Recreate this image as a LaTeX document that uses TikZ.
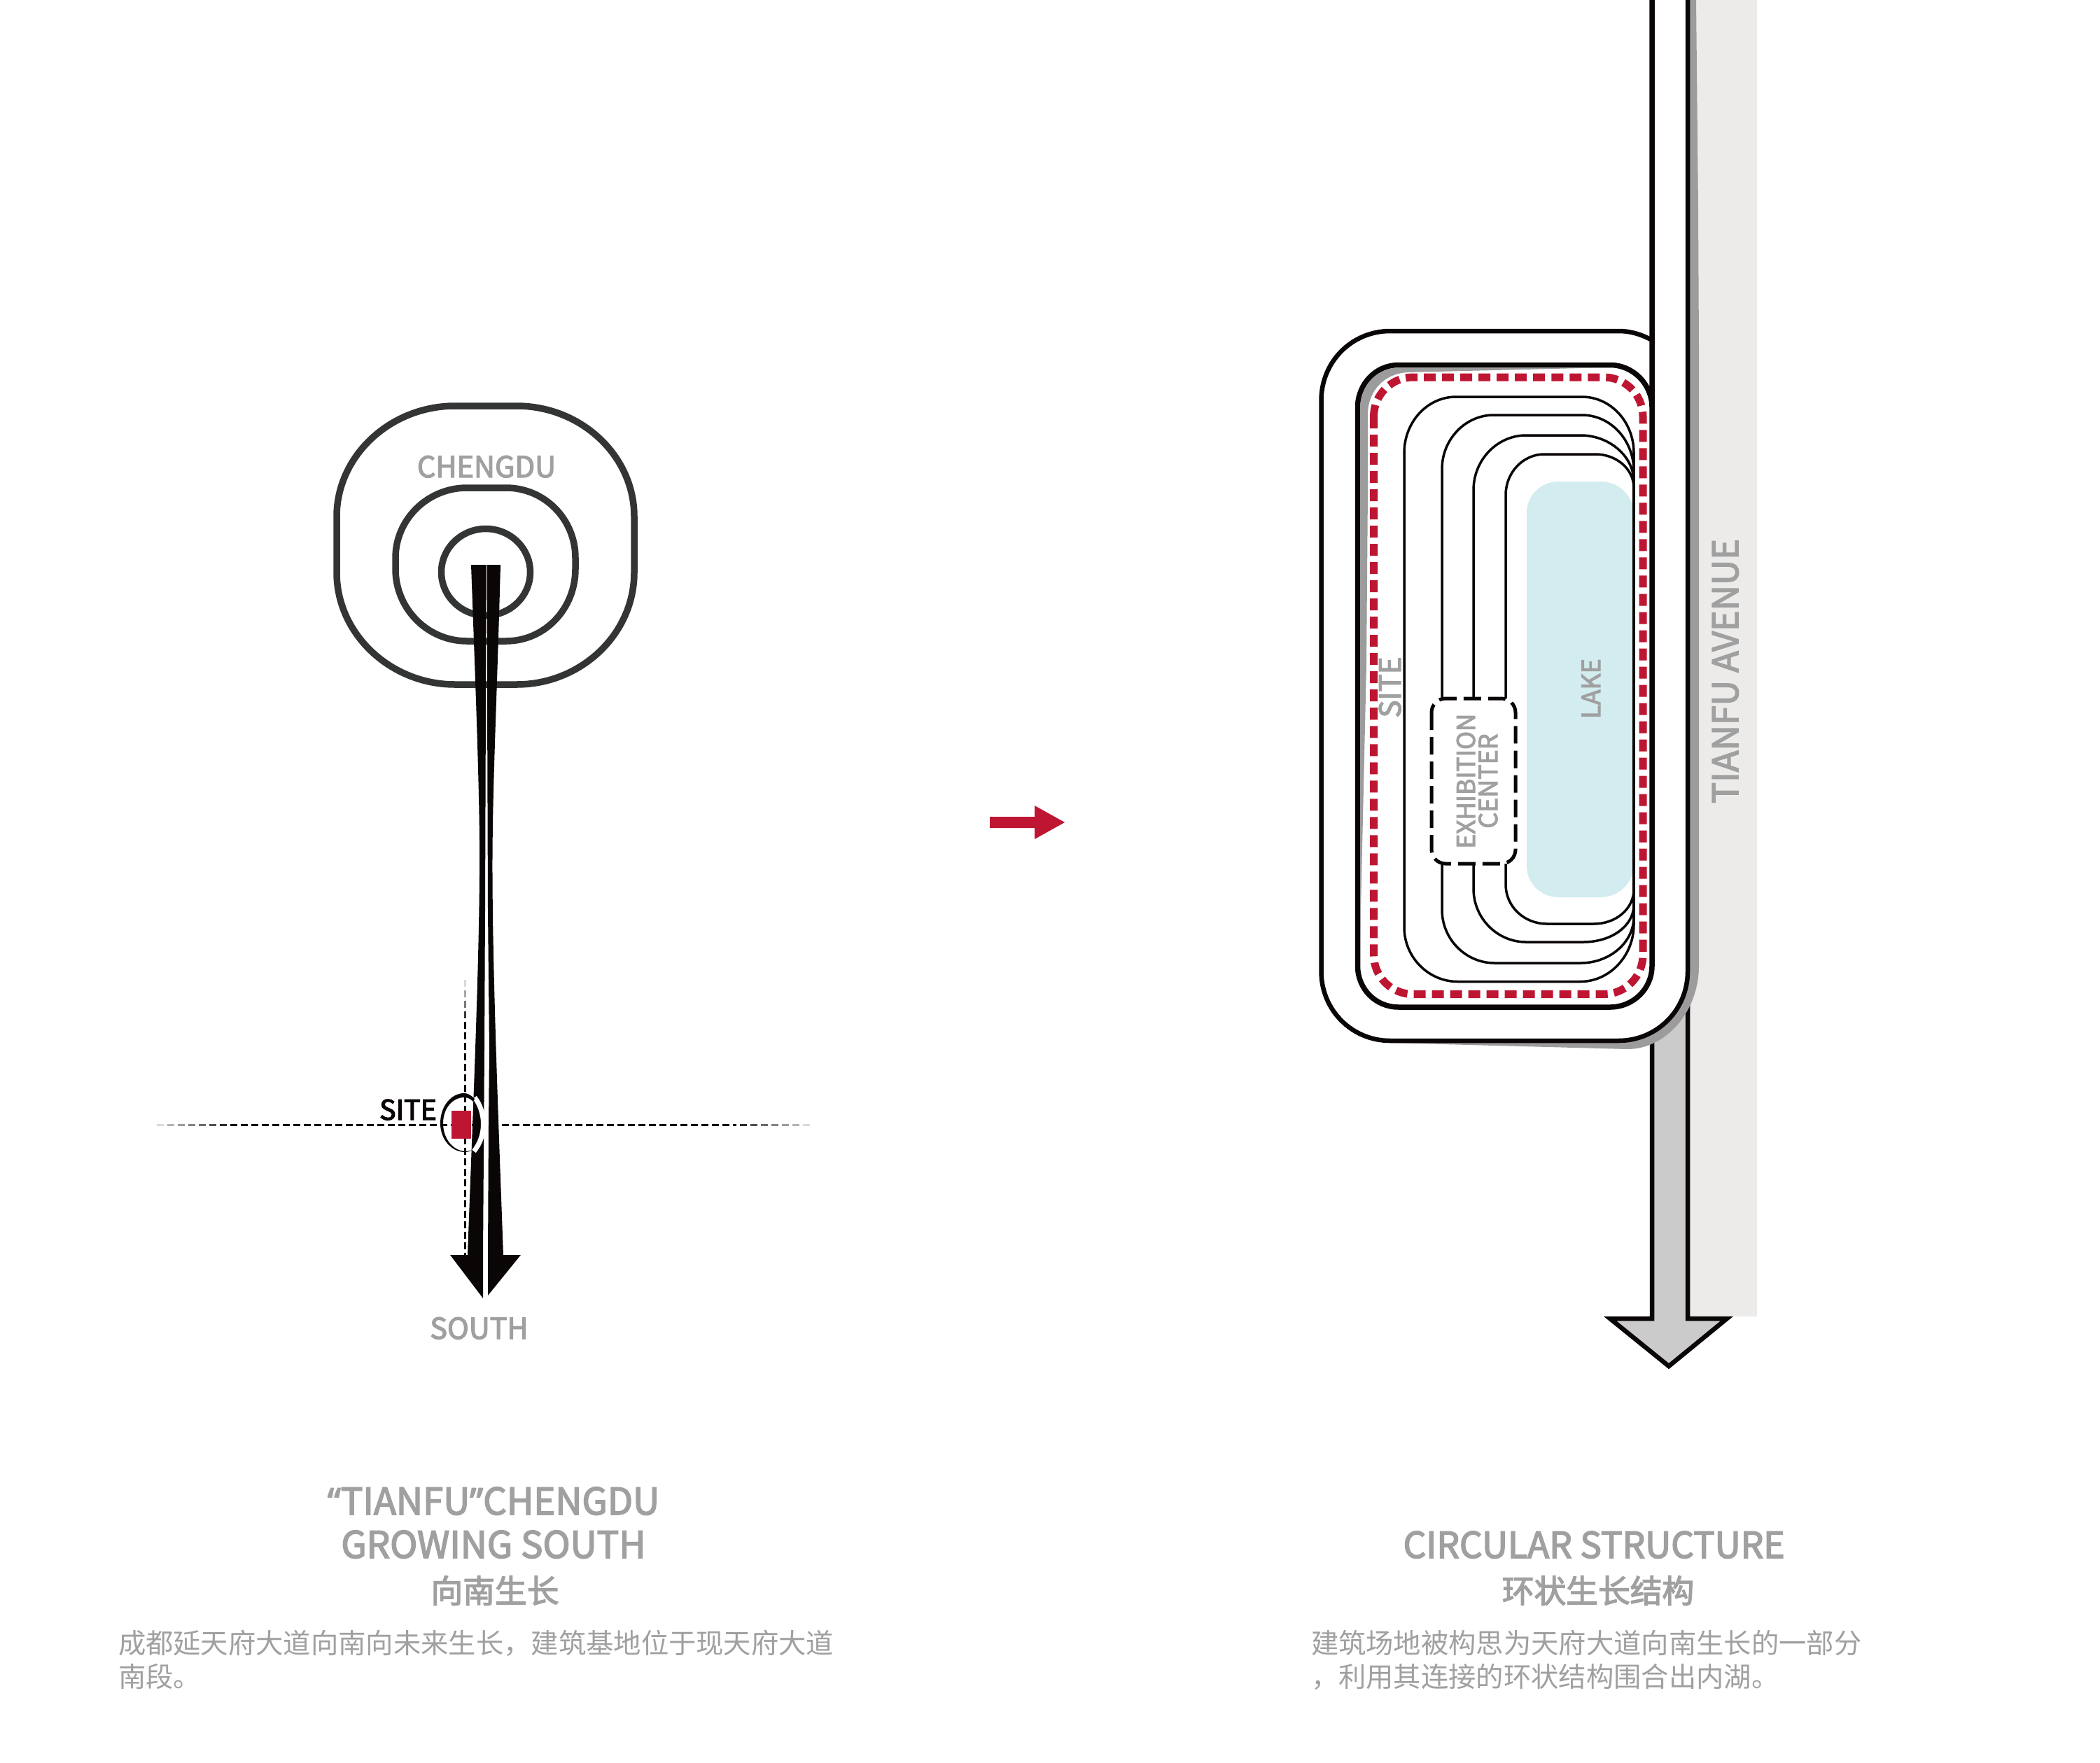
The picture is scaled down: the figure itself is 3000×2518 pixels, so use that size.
\documentclass[tikz,border=0pt]{standalone}
\usepackage{fontspec}
\setmainfont{Noto Sans CJK SC}
\newfontfamily\medf[FakeBold=3]{Noto Sans CJK SC}
\newfontfamily\latinq[FakeBold=3]{Noto Sans}
\def\pxu{0.2845pt}
\definecolor{ringc}{HTML}{333535}
\definecolor{blk}{HTML}{0A0605}
\definecolor{txtg}{HTML}{A0A0A0}
\definecolor{redc}{HTML}{BE1632}
\definecolor{lightg}{HTML}{ECEBEA}
\definecolor{shad}{HTML}{9C9C9C}
\definecolor{roadg}{HTML}{CBCBCB}
\definecolor{lakec}{HTML}{D2ECEF}
\tikzset{
  ring/.style={draw=ringc,line width=9.5*\pxu},
  thickb/.style={draw=blk,line width=6.5*\pxu},
  thinb/.style={draw=blk,line width=3.5*\pxu},
  dashl/.style={draw=blk,line width=3*\pxu,dash pattern=on 10*\pxu off 5*\pxu},
  lab/.style={inner sep=0,outer sep=0,text=txtg,anchor=base,font=\fontsize{11.8pt}{13pt}\medf},
  ttl/.style={inner sep=0,outer sep=0,text=txtg,anchor=base,font=\fontsize{15pt}{16pt}\medf},
  ttlc/.style={inner sep=0,outer sep=0,text=txtg,anchor=base,font=\fontsize{13pt}{15pt}\medf},
  bodyt/.style={inner sep=0,outer sep=0,text=txtg,anchor=base west,font=\fontsize{11.18pt}{14pt}\selectfont},
}
\begin{document}
\begin{tikzpicture}[x=0.01cm,y=-0.01cm]
\useasboundingbox[fill=white] (0,0) rectangle (3000,2518);
% ---------- left diagram
\draw[ring] (650,580)--(738,580) .. controls +(92,0) and +(0,-87) .. (906,738) -- (906,818) .. controls +(0,88) and +(92,0) .. (738,978) -- (650,978) .. controls +(-92,0) and +(0,88) .. (481,818) -- (481,738) .. controls +(0,-87) and +(-92,0) .. (650,580) -- cycle;
\draw[ring] (667,697)--(723,697) .. controls +(55,0) and +(0,-55) .. (822,797) -- (822,813) .. controls +(0,57) and +(55,0) .. (723,916) -- (667,916) .. controls +(-56,0) and +(0,57) .. (565,813) -- (565,797) .. controls +(0,-55) and +(-56,0) .. (667,697) -- cycle;
\draw[ring] (694,817.5) ellipse [x radius=63.5,y radius=62];
% dashed cross
\foreach \i/\c in {0/15,1/30,2/40,3/50,4/60,5/70,6/85}{
  \draw[blk!\c!white,line width=3*\pxu] ({224+15*\i},1607) -- ({234+15*\i},1607);
  \draw[blk!\c!white,line width=3*\pxu] ({1157-15*\i},1607) -- ({1147-15*\i},1607);
}
\draw[dashl] (329,1607) -- (680,1607);
\draw[dashl] (717,1607) -- (1052,1607);
\foreach \i/\c in {0/15,1/35,2/55,3/80}{
  \draw[blk!\c!white,line width=3*\pxu] (664,{1400+15*\i}) -- (664,{1410+15*\i});
}
\draw[dashl] (664,1460) -- (664,1793);
% black arrow
\fill[blk] (673,807) -- (695,807) -- (694,1000) -- (693,1300) -- (692,1500) -- (690,1793) -- (690,1855) -- (643,1793) -- (668,1793) .. controls (675,1600) and (684,1400) .. (685,1250) .. controls (686,1150) and (680,1000) .. (673,807) -- cycle;
\fill[blk] (696,807) -- (715,807) .. controls (710,1000) and (703,1130) .. (703.5,1250) .. controls (704,1400) and (712,1600) .. (719,1793) -- (744,1793) -- (697,1851) -- (697,1793) -- (698,1607) -- (699,1500) -- (697,1300) -- (696,1000) -- cycle;
% site
\draw[white,line width=7*\pxu] (678,1568) .. controls (686,1578) and (690.5,1592) .. (690.5,1606) .. controls (690.5,1622) and (685,1635) .. (677,1645);
\fill[blk] (678,1570) .. controls (672,1564) and (668,1562) .. (663,1562) .. controls (645,1562) and (629,1580) .. (629,1605) .. controls (629,1628) and (645,1646) .. (664,1646) .. controls (668,1646) and (672,1645) .. (675,1643) .. controls (672,1644) and (668,1645) .. (664,1645) .. controls (648,1644) and (633,1628) .. (633,1605) .. controls (633,1583) and (647,1568) .. (663,1568) .. controls (668,1568) and (672,1570) .. (676,1574) -- cycle;
\fill[redc] (645,1587) rectangle (673,1627);
\node[inner sep=0,outer sep=0,text=blk,anchor=base,font=\fontsize{11.2pt}{13pt}\medf] (sitea) at (583,1600) {SITE};
\node[lab] (chengdu) at (695,682) {CHENGDU};
\node[lab] (south) at (684.5,1913) {SOUTH};
% red arrow
\fill[redc] (1414,1167) -- (1478,1167) -- (1478,1151) -- (1521,1175) -- (1478,1199) -- (1478,1183) -- (1414,1183) -- cycle;
% ---------- right diagram
\fill[lightg] (2414,0) rectangle (2510,1881);
% road arrow
\fill[roadg,draw=blk,line width=6.5*\pxu,miter limit=10] (2360,1480) -- (2360,1884) -- (2300,1884) -- (2384,1952) -- (2467,1884) -- (2411,1884) -- (2411,1380) -- cycle;
\fill[shad] (2411,0) -- (2423,0) -- (2426,300) -- (2427,500) -- (2427,1380) .. controls +(0,65) and +(55,0) .. (2325,1499) -- (1986,1490) -- (1986,1480) -- (2411,1300) -- cycle;
% outer loop
\fill[white] (2360,0) rectangle (2411,600);
\fill[white] (1986,473) -- (2312,473) -- (2360,486) -- (2411,486) -- (2411,1388) .. controls +(0,55) and +(55,0) .. (2312,1487) -- (1986,1487) .. controls +(-55,0) and +(0,55) .. (1887.5,1388) -- (1887.5,572) .. controls +(0,-55) and +(-55,0) .. (1986,473) -- cycle;
\draw[draw=blk,line width=7.5*\pxu] (2360,0) -- (2360,1380) .. controls +(0,33) and +(33,0) .. (2300,1439) -- (1998,1439) .. controls +(-33,0) and +(0,33) .. (1939.5,1380) -- (1939.5,582) .. controls +(0,-33) and +(-33,0) .. (1998,521.5) -- (2300,521.5) .. controls +(33,0) and +(0,-33) .. (2360,582);
% inner shadow
\fill[shad] (2300,525) -- (2010,532) .. controls (1978,534) and (1954,558) .. (1954,592) -- (1954,700) -- (1952,950) -- (1943,1343) -- (1943,583) .. controls (1943,550) and (1968,525) .. (2000,525) -- cycle;
\draw[thickb] (2360,486) .. controls (2345,478) and (2330,473) .. (2312,473) -- (1986,473) .. controls +(-55,0) and +(0,-55) .. (1887.5,572) -- (1887.5,1388) .. controls +(0,55) and +(-55,0) .. (1986,1487) -- (2312,1487) .. controls +(55,0) and +(0,55) .. (2411,1388) -- (2411,0);
% lake
\fill[lakec] (2227,688) -- (2285,688) .. controls (2307,688) and (2325,700) .. (2332.6,722) -- (2332.6,1248) .. controls (2325,1270) and (2307,1282) .. (2285,1282) -- (2227,1282) .. controls (2201,1282) and (2181,1262) .. (2181,1237) -- (2181,733) .. controls (2181,708) and (2201,688) .. (2227,688) -- cycle;
% thin lines
\draw[thinb] (2334,647) -- (2334,1321);
\draw[thinb] (2334,647) .. controls +(0,-44) and +(41,0) .. (2260,567) -- (2080,567) .. controls +(-41,0) and +(0,-44) .. (2006,647) -- (2006,1325) .. controls +(0,43) and +(-41,0) .. (2082,1402.5) -- (2258,1402.5) .. controls +(41,0) and +(0,45) .. (2334,1321);
\draw[thinb] (2334,673) .. controls +(0,-44) and +(41,0) .. (2260,593) -- (2134,593) .. controls +(-41,0) and +(0,-42) .. (2060,670) -- (2060,998);
\draw[thinb] (2060,1234) -- (2060,1300) .. controls +(0,42) and +(-41,0) .. (2135,1376) -- (2258,1376) .. controls +(41,0) and +(0,37) .. (2334,1310);
\draw[thinb] (2334,688) .. controls +(0,-36) and +(41,0) .. (2258,622) -- (2180,622) .. controls +(-41,0) and +(0,-43) .. (2105,700) -- (2105,998);
\draw[thinb] (2105,1234) -- (2105,1270) .. controls +(0,42) and +(-41,0) .. (2180,1346) -- (2262,1346) .. controls +(40,0) and +(0,30) .. (2334,1293);
\draw[thinb] (2334,697) .. controls +(0,-27) and +(30,0) .. (2279,649) -- (2206,649) .. controls +(-30,0) and +(0,-32) .. (2151,707) -- (2151,998);
\draw[thinb] (2151,1234) -- (2151,1264) .. controls +(0,31) and +(-33,0) .. (2210,1320) -- (2277,1320) .. controls +(32,0) and +(0,27) .. (2334,1271);
% exhibition box
\draw[draw=blk,line width=5*\pxu,dash pattern=on 25*\pxu off 10*\pxu,rounded corners=0.2cm] (2045,998) rectangle (2165,1234);
% red dashed
\draw[draw=redc,line width=11*\pxu,dash pattern=on 17*\pxu off 9*\pxu,rounded corners=0.56cm] (1962.5,539) rectangle (2347,1420.5);
% labels
\node[lab,rotate=90,font=\fontsize{11.9pt}{14pt}\medf] (siteb) at (2001,982) {SITE};
\node[lab,rotate=90,font=\fontsize{10.2pt}{13pt}\medf] (lake) at (2286,984) {LAKE};
\node[lab,rotate=90,font=\fontsize{10pt}{13pt}\medf] (exh) at (2107,1116) {EXHIBITION};
\node[lab,rotate=90,font=\fontsize{10.2pt}{13pt}\medf] (cen) at (2139,1116) {CENTER};
\node[lab,rotate=90,font=\fontsize{14.3pt}{16pt}\medf] (tav) at (2483,959) {TIANFU AVENUE};
% titles
\node[ttl] (t1) at (705,2164) {{\latinq “}TIANFU{\latinq ”}CHENGDU};
\node[ttl] (t2) at (705,2226) {GROWING SOUTH};
\node[ttlc] (t3) at (707,2290) {向南生长};
\node[bodyt] (b1) at (169,2362.5) {成都延天府大道向南向未来生长，建筑基地位于现天府大道};
\node[bodyt] (b2) at (169,2410) {南段。};
\node[ttl,font=\fontsize{14.6pt}{16pt}\medf] (t4) at (2277,2226) {CIRCULAR STRUCTURE};
\node[ttlc] (t5) at (2283,2290) {环状生长结构};
\node[bodyt] (b3) at (1873,2362.5) {建筑场地被构思为天府大道向南生长的一部分};
\node[bodyt] (b4) at (1873,2410) {，利用其连接的环状结构围合出内湖。};
\end{tikzpicture}
\end{document}
